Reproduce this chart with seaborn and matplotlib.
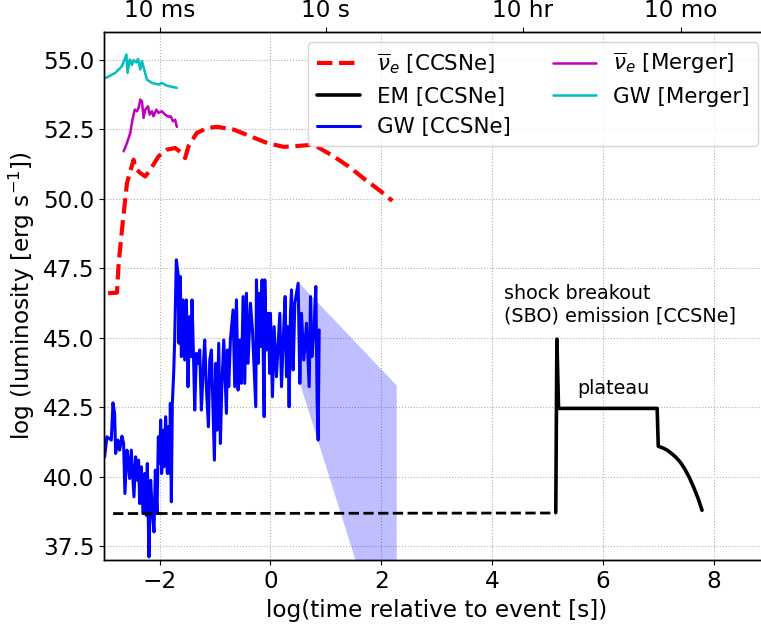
import numpy as np
import pandas as pd
import matplotlib
matplotlib.use("Agg")
import matplotlib.pyplot as plt
import seaborn as sns

# ---------------- data ----------------
nu_ccsne_x = [-2.93, -2.77, -2.74, -2.68, -2.59, -2.47, -2.44, -2.35, -2.26, -2.17, -2.02,
              -1.87, -1.72, -1.60, -1.54, -1.48, -1.33, -1.14, -0.96, -0.66, -0.36, -0.06,
              0.24, 0.54, 0.78, 1.14, 1.41, 1.70, 2.00, 2.20]
nu_ccsne_y = [46.60, 46.62, 47.68, 48.88, 50.56, 51.40, 51.10, 50.92, 50.80, 51.04, 51.52,
              51.76, 51.82, 51.64, 51.46, 51.88, 52.36, 52.54, 52.58, 52.48, 52.24, 52.00,
              51.86, 51.90, 51.94, 51.52, 51.16, 50.70, 50.25, 49.92]

em_x = [5.15, 5.17, 5.20, 6.98, 7.00, 7.08, 7.16, 7.24, 7.32, 7.40, 7.48, 7.56, 7.64, 7.72, 7.79]
em_y = [38.72, 44.95, 42.46, 42.46, 41.10, 41.04, 40.96, 40.84, 40.70, 40.52, 40.28, 39.98,
        39.62, 39.22, 38.80]

em_base_x = [-2.84, 5.15]
em_base_y = [38.68, 38.70]

gw_ccsne_x = [-2.994, -2.952, -2.873, -2.843, -2.813, -2.795, -2.753, -2.723, -2.681, -2.651,
              -2.627, -2.590, -2.560, -2.542, -2.512, -2.464, -2.434, -2.404, -2.380, -2.361,
              -2.331, -2.301, -2.271, -2.241, -2.223, -2.193, -2.163, -2.133, -2.102, -2.078,
              -2.048, -2.024, -2.000, -1.982, -1.964, -1.940, -1.922, -1.892, -1.861, -1.843,
              -1.819, -1.807, -1.789, -1.771, -1.747, -1.729, -1.699, -1.669, -1.651, -1.627,
              -1.608, -1.578, -1.548, -1.518, -1.488, -1.458, -1.428, -1.416, -1.386, -1.367,
              -1.337, -1.307, -1.277, -1.247, -1.217, -1.187, -1.157, -1.120, -1.096, -1.066,
              -1.012, -0.988, -0.964, -0.934, -0.904, -0.880, -0.843, -0.795, -0.777, -0.753,
              -0.723, -0.675, -0.645, -0.614, -0.584, -0.554, -0.524, -0.494, -0.464, -0.434,
              -0.404, -0.361, -0.325, -0.265, -0.253, -0.223, -0.205, -0.181, -0.151, -0.114,
              -0.102, -0.072, -0.042, -0.012, 0.000, 0.036, 0.066, 0.108, 0.169, 0.199,
              0.241, 0.265, 0.289, 0.313, 0.337, 0.361, 0.380, 0.410, 0.440, 0.500,
              0.530, 0.560, 0.602, 0.651, 0.699, 0.723, 0.747, 0.783, 0.819, 0.843,
              0.861, 0.880]
gw_ccsne_y = [40.72, 41.44, 41.32, 42.66, 42.28, 40.84, 41.32, 40.96, 41.46, 41.20,
              39.40, 40.96, 40.48, 39.94, 40.96, 39.28, 40.72, 39.88, 40.60, 39.04,
              40.36, 38.68, 40.12, 38.62, 40.48, 37.12, 39.88, 38.80, 38.02, 40.24,
              38.68, 41.44, 40.48, 42.04, 40.12, 41.68, 40.36, 42.16, 40.12, 41.80,
              40.12, 42.64, 39.10, 42.64, 43.72, 44.92, 47.80, 47.32, 44.80, 47.20,
              44.32, 46.36, 44.20, 46.36, 43.24, 45.76, 44.32, 46.36, 44.08, 42.40,
              44.44, 44.08, 44.56, 42.40, 43.72, 44.92, 43.24, 41.80, 44.20, 44.56,
              40.60, 44.08, 41.68, 44.80, 41.20, 43.12, 44.92, 42.28, 44.56, 43.24,
              44.92, 46.00, 43.24, 46.36, 43.12, 44.92, 43.36, 46.48, 43.36, 46.60,
              44.08, 46.24, 45.28, 42.52, 47.08, 44.08, 46.60, 44.68, 47.08, 42.16,
              47.08, 44.56, 45.88, 43.72, 45.88, 42.88, 45.40, 43.60, 45.88, 43.24,
              45.40, 46.48, 43.60, 45.40, 42.52, 45.88, 46.72, 43.84, 46.24, 46.96,
              43.36, 45.88, 44.20, 45.52, 43.24, 46.48, 44.32, 45.16, 46.84, 42.64,
              41.32, 45.28]

band_x = [0.52, 2.27]
band_upper = [46.96, 43.30]
band_lower = [43.40, 32.30]

nu_merger_x = [-2.65, -2.59, -2.53, -2.49, -2.45, -2.41, -2.38, -2.35, -2.32, -2.29, -2.26,
               -2.21, -2.18, -2.14, -2.11, -2.06, -2.02, -1.96, -1.90, -1.84, -1.80, -1.76,
               -1.72, -1.69]
nu_merger_y = [51.70, 52.00, 52.36, 52.84, 53.20, 53.14, 53.26, 53.56, 53.50, 52.90, 53.20,
               53.32, 53.02, 53.14, 52.96, 53.20, 53.08, 53.14, 53.02, 52.94, 52.96, 52.78,
               52.84, 52.58]

gw_merger_x = [-2.97, -2.80, -2.68, -2.60, -2.58, -2.54, -2.50, -2.47, -2.42, -2.39, -2.35,
               -2.32, -2.23, -2.14, -2.02, -1.96, -1.87, -1.78, -1.69]
gw_merger_y = [54.34, 54.52, 54.76, 55.18, 54.52, 55.00, 54.80, 54.98, 54.90, 55.02, 54.64,
               54.94, 54.28, 54.16, 54.10, 54.16, 54.06, 54.02, 53.98]

top_tick_pos = [np.log10(0.01), np.log10(10.0), np.log10(10 * 3600.0), np.log10(10 * 30 * 86400.0)]
top_tick_labels = ["10 ms", "10 s", "10 hr", "10 mo"]

# ---------------- style ----------------
sns.set_style("ticks", {"axes.grid": True, "grid.linestyle": ":", "grid.color": "#b0b0b0",
                        "axes.edgecolor": "black", "xtick.color": "black", "ytick.color": "black",
                        "text.color": "black", "axes.labelcolor": "black"})
plt.rcParams["font.family"] = ["DejaVu Sans"]
plt.rcParams["mathtext.fontset"] = "dejavusans"
plt.rcParams["grid.linewidth"] = 0.8
plt.rcParams["text.color"] = "black"
plt.rcParams["axes.labelcolor"] = "black"

FS = 16.7
fig = plt.figure(figsize=(7.61, 6.28), dpi=100)
ax = fig.add_axes([0.137, 0.1078, 0.8736, 0.8417])

ax.fill_between(band_x, band_lower, band_upper, color="b", alpha=0.25, lw=0, zorder=1)

sns.lineplot(x=nu_ccsne_x, y=nu_ccsne_y, ax=ax, color="r", lw=3, linestyle="--",
             sort=False, estimator=None, label=r"$\overline{\nu}_e$ [CCSNe]")
sns.lineplot(x=em_x, y=em_y, ax=ax, color="k", lw=2.6,
             sort=False, estimator=None, label="EM [CCSNe]")
sns.lineplot(x=gw_ccsne_x, y=gw_ccsne_y, ax=ax, color="b", lw=2.2,
             sort=False, estimator=None, label="GW [CCSNe]")
sns.lineplot(x=nu_merger_x, y=nu_merger_y, ax=ax, color="m", lw=1.8,
             sort=False, estimator=None, label=r"$\overline{\nu}_e$ [Merger]")
sns.lineplot(x=gw_merger_x, y=gw_merger_y, ax=ax, color="c", lw=1.8,
             sort=False, estimator=None, label="GW [Merger]")
sns.lineplot(x=em_base_x, y=em_base_y, ax=ax, color="k", lw=2, linestyle="--",
             sort=False, estimator=None, legend=False)

ax.set_xlim(-3, 9)
ax.set_ylim(37, 56)
ax.set_xticks([-2, 0, 2, 4, 6, 8])
ax.set_yticks([37.5, 40.0, 42.5, 45.0, 47.5, 50.0, 52.5, 55.0])
ax.set_yticklabels(["37.5", "40.0", "42.5", "45.0", "47.5", "50.0", "52.5", "55.0"])
ax.tick_params(labelsize=FS, direction="out", length=3.5, width=0.8, labelcolor="black")
ax.set_xlabel("log(time relative to event [s])", fontsize=FS, color="black")
ax.set_ylabel(r"log (luminosity [erg s$^{-1}$])", fontsize=FS, color="black")
for s in ax.spines.values():
    s.set_linewidth(1.0)
    s.set_color("black")

ax.text(4.21, 45.45, "shock breakout\n(SBO) emission [CCSNe]", fontsize=13.8,
        ha="left", va="bottom", color="black")
ax.text(5.53, 42.85, "plateau", fontsize=13.8, ha="left", va="bottom", color="black")

handles, labels = ax.get_legend_handles_labels()
leg = ax.legend(handles, labels, loc="upper right", ncol=2, fontsize=15.4, frameon=True)
for t in leg.get_texts():
    t.set_color("black")

ax2 = ax.twiny()
ax2.set_xlim(ax.get_xlim())
ax2.set_xticks(top_tick_pos)
ax2.set_xticklabels(top_tick_labels)
ax2.tick_params(labelsize=FS, direction="out", length=3.5, width=0.8, labelcolor="black")
ax2.grid(False)
for s in ax2.spines.values():
    s.set_linewidth(1.0)
    s.set_color("black")

fig.savefig("out.png", dpi=100)
